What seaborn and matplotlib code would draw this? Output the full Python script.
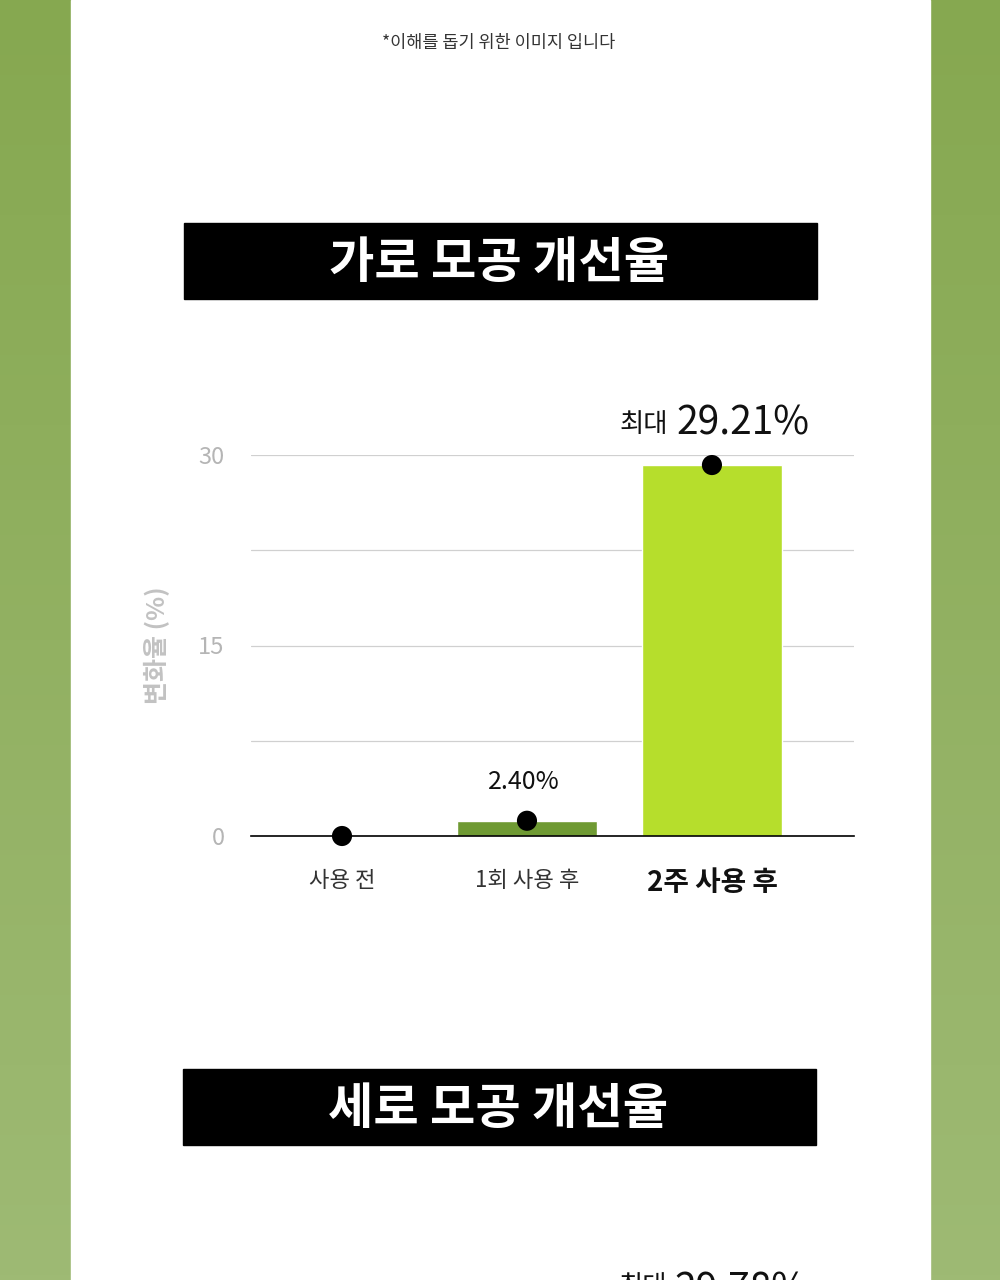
import numpy as np
import matplotlib
matplotlib.use("Agg")
import matplotlib.pyplot as plt
from matplotlib.patches import Rectangle
import seaborn as sns

# ---- data ----
categories = ["사용 전", "1회 사용 후", "2주 사용 후"]
bar_values = [0.0, 1.2, 29.21]          # drawn heights
value_labels = ["", "2.40%", "29.21%"]
bar_colors = ["#ffffff", "#6f9a33", "#b6de2c"]
y_ticks = [0, 7.5, 15, 22.5, 30]
y_tick_labels = ["0", "", "15", "", "30"]
title_1 = "가로 모공 개선율"
title_2 = "세로 모공 개선율"
note = "*이해를 돕기 위한 이미지 입니다"
max_prefix = "최대"
next_max_label = "29.78%"

sns.set_theme(style="white")
plt.rcParams["font.family"] = ["Noto Sans CJK KR", "DejaVu Sans"]

W, H = 1000, 1280
fig = plt.figure(figsize=(W / 100, H / 100), dpi=100)
fig.patch.set_facecolor("white")


def fx(x):
    return x / W


def fy(y):
    return 1 - y / H


# ---- background: green gradient borders + white panel ----
bg = fig.add_axes([0, 0, 1, 1], zorder=-10)
top = np.array([134, 168, 80]) / 255
bot = np.array([158, 186, 116]) / 255
t = np.linspace(0, 1, 256)[:, None]
grad = top[None, :] * (1 - t) + bot[None, :] * t
bg.imshow(grad[:, None, :], aspect="auto", extent=[0, 1, 0, 1], origin="upper")
bg.add_patch(Rectangle((fx(71), 0), fx(930 - 71), 1, color="white", transform=bg.transAxes))
bg.set_xlim(0, 1)
bg.set_ylim(0, 1)
bg.axis("off")

# ---- top note ----
fig.text(fx(499), fy(43), note, ha="center", va="center", fontsize=12.6, color="#333333")

# ---- title boxes ----
def title_box(x0, x1, y0, y1, text):
    fig.patches.append(Rectangle((fx(x0), fy(y1)), fx(x1 - x0), (y1 - y0) / H,
                                 transform=fig.transFigure, color="black", zorder=1))
    fig.text(fx((x0 + x1) / 2 - 1), fy((y0 + y1) / 2 + 2), text, ha="center", va="center",
             fontsize=35.5, fontweight="bold", color="white", zorder=2)


title_box(184, 817, 223, 299, title_1)
title_box(183, 816, 1069, 1145, title_2)

# ---- chart ----
ax_l, ax_r, ax_t, ax_b = 251, 854, 455, 836
ax = fig.add_axes([fx(ax_l), fy(ax_b), fx(ax_r - ax_l), (ax_b - ax_t) / H])
ax.set_facecolor("none")

sns.barplot(x=categories, y=bar_values, hue=categories, palette=bar_colors,
            width=0.757, legend=False, ax=ax, saturation=1, zorder=2)
sns.scatterplot(x=categories, y=bar_values, color="black", s=210, ax=ax,
                zorder=5, clip_on=False, edgecolor="none")

ax.set_xlim(-0.492, 2.768)
ax.set_ylim(0, 30)
ax.set_yticks(y_ticks)
ax.set_yticklabels(y_tick_labels)
ax.grid(axis="y", color="#d0d0d0", linewidth=0.9, zorder=0)
ax.set_axisbelow(True)
for s in ["top", "right", "left"]:
    ax.spines[s].set_visible(False)
ax.spines["bottom"].set_color("black")
ax.spines["bottom"].set_linewidth(1.2)
ax.spines["bottom"].set_zorder(3)
ax.tick_params(axis="y", length=0, pad=19, labelsize=17, labelcolor="#b5b5b5")
ax.tick_params(axis="x", length=0, pad=23.5)
for i, lab in enumerate(ax.get_xticklabels()):
    if i == 2:
        lab.set_fontsize(20)
        lab.set_fontweight("bold")
        lab.set_color("#111111")
    else:
        lab.set_fontsize(16)
        lab.set_color("#333333")

ax.set_ylabel("변화율 (%)", fontsize=18, color="#c2c2c2", fontweight="bold")
ax.yaxis.set_label_coords(-0.135, 0.5)

# value labels
for i, (v, lab) in enumerate(zip(bar_values, value_labels)):
    if not lab:
        continue
    if i == len(bar_values) - 1:
        ax.annotate(max_prefix, xy=(i, v), xytext=(-44, 33), textcoords="offset pixels",
                    ha="right", va="baseline", fontsize=19, color="#111111",
                    fontweight="medium", annotation_clip=False)
        ax.annotate(lab, xy=(i, v), xytext=(-36, 31), textcoords="offset pixels",
                    ha="left", va="baseline", fontsize=28, color="#111111",
                    fontweight="medium", annotation_clip=False)
    else:
        ax.annotate(lab, xy=(i, v), xytext=(-3, 39), textcoords="offset pixels",
                    ha="center", va="center", fontsize=18, color="#111111",
                    annotation_clip=False)

# partially visible next chart label at the bottom (cut off at the figure edge, as in the reference)
fig.text(fx(667), fy(1294), max_prefix, ha="right", va="baseline", fontsize=19, color="#111111")
fig.text(fx(674), fy(1301), next_max_label, ha="left", va="baseline", fontsize=28, color="#111111")

fig.savefig("out.png", dpi=100)
